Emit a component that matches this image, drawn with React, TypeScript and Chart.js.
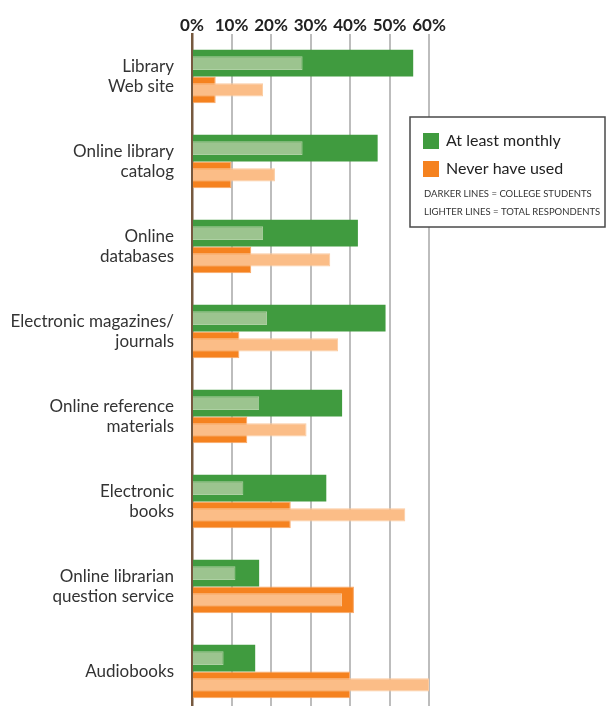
import React, { useEffect, useRef } from "react";
import { Chart, registerables } from "chart.js";

Chart.register(...registerables);

const categories: string[][] = [
  ["Library", "Web site"],
  ["Online library", "catalog"],
  ["Online", "databases"],
  ["Electronic magazines/", "journals"],
  ["Online reference", "materials"],
  ["Electronic", "books"],
  ["Online librarian", "question service"],
  ["Audiobooks"],
];

// At least monthly
const monthlyCollege = [56, 47, 42, 49, 38, 34, 17, 16];
const monthlyTotal = [28, 28, 18, 19, 17, 13, 11, 8];
// Never have used
const neverCollege = [6, 10, 15, 12, 14, 25, 41, 40];
const neverTotal = [18, 21, 35, 37, 29, 54, 38, 60];

const xTicks = [0, 10, 20, 30, 40, 50, 60];

const legendItems = ["At least monthly", "Never have used"];
const legendNotes = ["DARKER LINES = COLLEGE STUDENTS", "LIGHTER LINES = TOTAL RESPONDENTS"];

const GREEN = "#409b3f";
const LIGHT_GREEN = "#9cc48f";
const ORANGE = "#f5821f";
const LIGHT_ORANGE = "#fbbd87";

const legendPlugin = {
  id: "customLegend",
  afterDraw(chart: any) {
    const ctx = chart.ctx as CanvasRenderingContext2D;
    ctx.save();
    const x = 410, y = 117, w = 195, h = 110;
    ctx.fillStyle = "#ffffff";
    ctx.fillRect(x, y, w, h);
    ctx.strokeStyle = "#4a4a4a";
    ctx.lineWidth = 1.5;
    ctx.strokeRect(x, y, w, h);
    const colors = [GREEN, ORANGE];
    ctx.textBaseline = "middle";
    ctx.textAlign = "left";
    legendItems.forEach((t, i) => {
      const cy = 141 + i * 28;
      ctx.fillStyle = colors[i];
      ctx.fillRect(423, cy - 8, 16, 16);
      ctx.fillStyle = "#222";
      ctx.font = "16px Lato";
      ctx.fillText(t, 446, cy);
    });
    ctx.font = "9.5px Lato";
    ctx.fillStyle = "#333";
    legendNotes.forEach((t, i) => {
      ctx.fillText(t, 424, 194 + i * 18);
    });
    ctx.restore();
  },
};

export default function App() {
  const ref = useRef<HTMLCanvasElement | null>(null);
  useEffect(() => {
    if (!ref.current) return;
    const catPct = 0.628;
    const chart = new Chart(ref.current, {
      type: "bar",
      data: {
        labels: categories as any,
        datasets: [
          {
            label: "At least monthly (total)",
            data: monthlyTotal,
            backgroundColor: LIGHT_GREEN,
            borderColor: "#add0a2",
            borderWidth: 1,
            stack: "g",
            order: 0,
            barPercentage: 0.52,
            categoryPercentage: catPct,
          },
          {
            label: "At least monthly (college)",
            data: monthlyCollege,
            backgroundColor: GREEN,
            borderWidth: 0,
            stack: "g",
            order: 1,
            barPercentage: 1,
            categoryPercentage: catPct,
          },
          {
            label: "Never have used (total)",
            data: neverTotal,
            backgroundColor: LIGHT_ORANGE,
            borderColor: "#fccba0",
            borderWidth: 1,
            stack: "o",
            order: 0,
            barPercentage: 0.5,
            categoryPercentage: catPct,
          },
          {
            label: "Never have used (college)",
            data: neverCollege,
            backgroundColor: ORANGE,
            borderColor: "#f9a868",
            borderWidth: 1,
            stack: "o",
            order: 1,
            barPercentage: 1,
            categoryPercentage: catPct,
          },
        ],
      },
      options: {
        indexAxis: "y",
        animation: false,
        responsive: true,
        maintainAspectRatio: false,
        layout: { padding: { left: 0, right: 177, top: 0, bottom: 0 } },
        plugins: {
          legend: { display: false },
          tooltip: { enabled: false },
        },
        scales: {
          x: {
            position: "top",
            min: 0,
            max: 60,
            stacked: false,
            afterBuildTicks: (scale: any) => {
              scale.ticks = xTicks.map((v) => ({ value: v }));
            },
            afterFit: (scale: any) => {
              scale.height = 34;
              scale.paddingTop = 0;
              scale.paddingBottom = 0;
            },
            ticks: {
              padding: -2,
              maxRotation: 0,
              minRotation: 0,
              autoSkip: false,
              color: "#222",
              font: { family: "Lato", size: 17, weight: "bold" },
              callback: (v: any) => v + "%",
            },
            grid: {
              drawTicks: false,
              color: (c: any) => (c.index === 0 ? "rgba(0,0,0,0)" : "#bdbdbd"),
              lineWidth: 2,
            },
            border: { display: false },
          },
          y: {
            afterFit: (scale: any) => {
              scale.width = 192;
              scale.paddingTop = 0;
              scale.paddingBottom = 0;
            },
            ticks: {
              padding: 18,
              color: "#333",
              font: { family: "Lato", size: 17, lineHeight: 1.18 },
            },
            grid: { display: false, drawTicks: false },
            border: { display: true, color: "#76593f", width: 2.5 },
          },
        },
      },
      plugins: [legendPlugin],
    });
    return () => chart.destroy();
  }, []);
  return (
    <div
      style={{
        position: "fixed",
        left: 0,
        top: 0,
        width: 606,
        height: 706,
        overflow: "hidden",
        background: "#fff",
      }}
    >
      <div style={{ position: "relative", width: 606, height: 714 }}>
        <canvas ref={ref} />
      </div>
    </div>
  );
}
